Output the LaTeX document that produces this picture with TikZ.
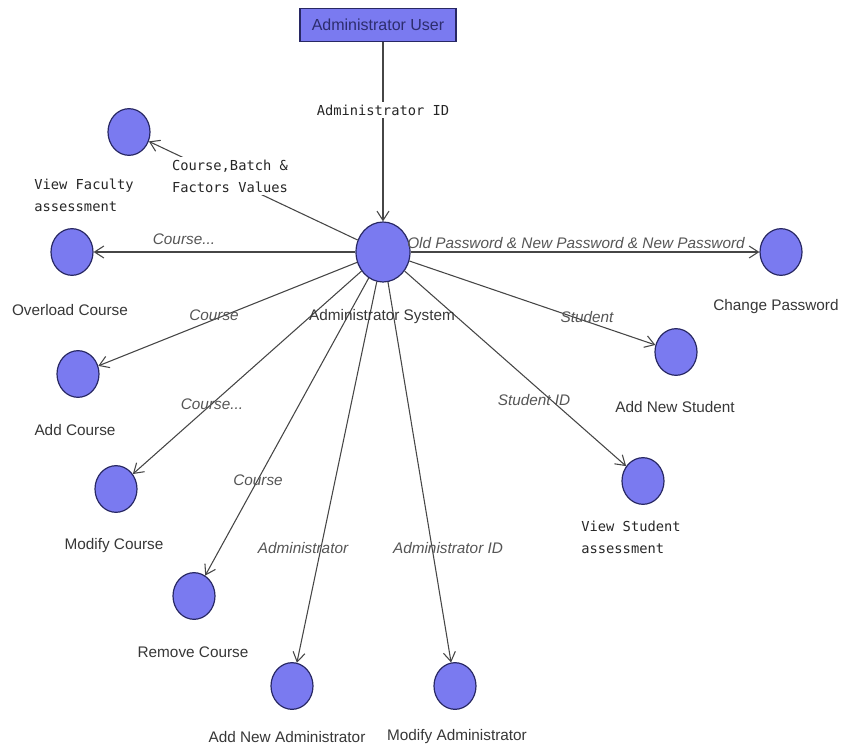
\documentclass[tikz,border=0pt]{standalone}
\usepackage{fontspec}
\setmainfont{Liberation Sans}
\newfontfamily\monolabel{DejaVu Sans Mono}
\usetikzlibrary{arrows.meta,shapes.geometric}

\definecolor{usecasefill}{RGB}{122,122,240}
\definecolor{usecaseedge}{RGB}{40,40,100}
\definecolor{flowline}{RGB}{70,70,70}
\definecolor{labelgrey}{RGB}{55,55,55}
\definecolor{italicgrey}{RGB}{85,85,85}
\definecolor{boxtext}{RGB}{45,45,110}

\tikzset{
  proc/.style={ellipse, draw=usecaseedge, fill=usecasefill, line width=0.9pt,
    minimum width=31.5pt, minimum height=35pt, inner sep=0pt},
  hub/.style={proc, minimum width=40.5pt, minimum height=45pt},
  actor/.style={rectangle, draw=usecaseedge, fill=usecasefill, line width=1pt,
    minimum width=117pt, minimum height=25pt, text=boxtext,
    font=\fontsize{12}{14}\selectfont},
  flow/.style={draw=flowline, line width=0.8pt,
    -{Straight Barb[length=7pt,width=9pt,line width=0.8pt]}},
  caption/.style={text=labelgrey, font=\fontsize{11.5}{14}\selectfont, inner sep=1pt},
  datalabel/.style={text=italicgrey, font=\fontsize{11.5}{14}\selectfont\itshape, inner sep=1pt},
  monotext/.style={text=black!85, font=\monolabel\fontsize{10.3}{16.5}\selectfont,
    align=left, inner sep=2pt},
}

\begin{document}
\begin{tikzpicture}[x=0.75pt,y=-0.75pt]
  \useasboundingbox (0,0) rectangle (845,749);

  % actor and central process
  \node[actor] (user) at (378,25) {Administrator User};
  \node[hub] (sys) at (383,252) {};

  % surrounding processes
  \node[proc] (vf)   at (129,132) {};
  \node[proc] (ovl)  at (72,252)  {};
  \node[proc] (addc) at (78,374)  {};
  \node[proc] (modc) at (116,489) {};
  \node[proc] (remc) at (194,596) {};
  \node[proc] (adda) at (292,686) {};
  \node[proc] (moda) at (455,686) {};
  \node[proc] (vs)   at (643,481) {};
  \node[proc] (adds) at (676,352) {};
  \node[proc] (chp)  at (781,252) {};

  % data flows
  \draw[flow] (user.south -| sys.north) -- (sys.north);
  \draw[flow] (sys) -- (vf);
  \draw[flow] (sys) -- (ovl);
  \draw[flow] (sys) -- (addc);
  \draw[flow] (sys) -- (modc);
  \draw[flow] (sys) -- (remc);
  \draw[flow] (sys) -- (adda);
  \draw[flow] (sys) -- (moda);
  \draw[flow] (sys) -- (vs);
  \draw[flow] (sys) -- (adds);
  \draw[flow] (sys) -- (chp);

  % flow labels
  \node[monotext, fill=white] (lid)  at (383,110) {Administrator ID};
  \node[monotext, fill=white] (lcbf) at (230,176) {Course,Batch \&\\Factors Values};
  \node[datalabel] (lovl)  at (184,239) {Course...};
  \node[datalabel] (lchp)  at (576,243) {Old Password \& New Password \& New Password};
  \node[datalabel] (ladds) at (587,317) {Student};
  \node[datalabel] (lvs)   at (534,400) {Student ID};
  \node[datalabel] (laddc) at (214,315) {Course};
  \node[datalabel] (lmodc) at (212,404) {Course...};
  \node[datalabel] (lremc) at (258,480) {Course};
  \node[datalabel] (ladda) at (303,548) {Administrator};
  \node[datalabel] (lmoda) at (448,548) {Administrator ID};

  % process names
  \node[caption] (nsys)  at (382,317) {Administrator System};
  \node[monotext] (nvf)  at (84,195)  {View Faculty\\assessment};
  \node[caption] (novl)  at (70,310)  {Overload Course};
  \node[caption] (naddc) at (75,430)  {Add Course};
  \node[caption] (nmodc) at (114,546) {Modify Course};
  \node[caption] (nremc) at (193,652) {Remove Course};
  \node[caption] (nadda) at (287,737) {Add New Administrator};
  \node[caption] (nmoda) at (457,737) {Modify Administrator};
  \node[monotext] (nvs)  at (631,537) {View Student\\assessment};
  \node[caption] (nadds) at (675,407) {Add New Student};
  \node[caption] (nchp)  at (776,307) {Change Password};
\end{tikzpicture}
\end{document}
